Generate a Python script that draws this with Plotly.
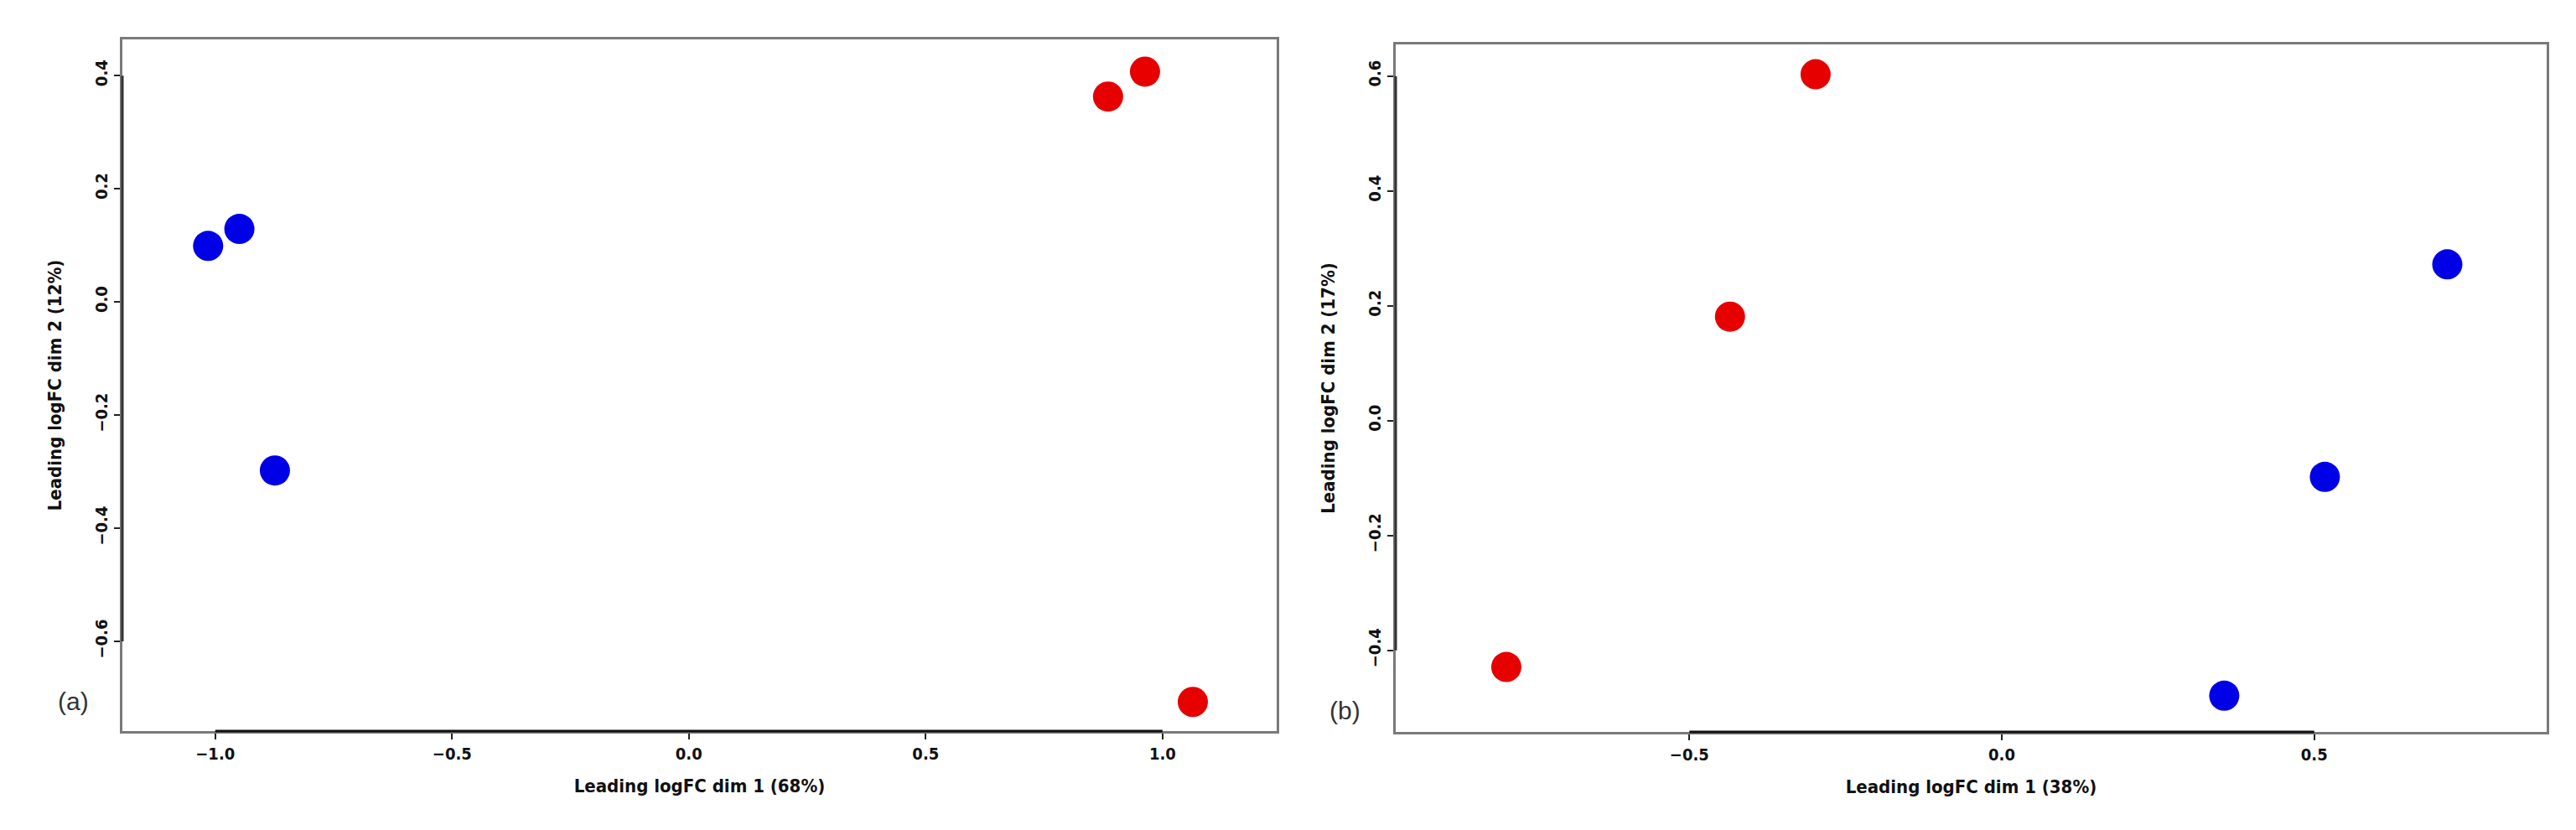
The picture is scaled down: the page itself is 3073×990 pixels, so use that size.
"""MDS plots of leading logFC (two panels), recreated with Plotly."""
import plotly.graph_objects as go

# panel (a)
a_blue_x = [-1.015, -0.949, -0.874]
a_blue_y = [0.099, 0.129, -0.298]
a_red_x = [0.885, 0.963, 1.064]
a_red_y = [0.363, 0.407, -0.707]
a_xticks = [-1.0, -0.5, 0.0, 0.5, 1.0]
a_yticks = [-0.6, -0.4, -0.2, 0.0, 0.2, 0.4]
a_xtitle = "Leading logFC dim 1 (68%)"
a_ytitle = "Leading logFC dim 2 (12%)"

# panel (b)
b_red_x = [-0.793, -0.435, -0.298]
b_red_y = [-0.429, 0.181, 0.603]
b_blue_x = [0.356, 0.517, 0.713]
b_blue_y = [-0.479, -0.098, 0.272]
b_xticks = [-0.5, 0.0, 0.5]
b_yticks = [-0.4, -0.2, 0.0, 0.2, 0.4, 0.6]
b_xtitle = "Leading logFC dim 1 (38%)"
b_ytitle = "Leading logFC dim 2 (17%)"

BLUE = "#0000E6"
RED = "#E60000"
BOX = "#7a7a7a"
FONT = "DejaVu Sans Condensed, Liberation Sans, Arial, sans-serif"

fig = go.Figure()


def dots(x, y, color, xa, ya):
    fig.add_trace(go.Scatter(
        x=x, y=y, mode="markers", xaxis=xa, yaxis=ya, showlegend=False,
        marker=dict(color=color, size=36, line=dict(width=0)),
    ))


dots(a_blue_x, a_blue_y, BLUE, "x", "y")
dots(a_red_x, a_red_y, RED, "x", "y")
dots(b_red_x, b_red_y, RED, "x2", "y2")
dots(b_blue_x, b_blue_y, BLUE, "x2", "y2")

W, H = 3073, 990


def axis(dom, rng, ticks, title, is_y, anchor, standoff):
    d = dict(
        domain=dom, range=rng, tickvals=ticks,
        ticktext=[f"{t:.1f}".replace("-", "\u2212") for t in ticks],
        showgrid=False, zeroline=False, showline=True, mirror=True,
        linecolor=BOX, linewidth=3, ticks="outside", ticklen=7, tickwidth=2,
        tickcolor="#222", anchor=anchor,
        tickfont=dict(family=FONT, size=20, color="#111", weight="bold"),
        title=dict(text=title, standoff=standoff,
                   font=dict(family=FONT, size=22, color="#111", weight="bold")),
    )
    if is_y:
        d["tickangle"] = -90
    return d


fig.update_layout(
    width=W, height=H, margin=dict(l=0, r=0, t=0, b=0),
    paper_bgcolor="white", plot_bgcolor="white",
    xaxis=axis([146 / W, 1523 / W], [-1.196, 1.241], a_xticks, a_xtitle, False, "y", 20),
    yaxis=axis([1 - 872 / H, 1 - 47 / H], [-0.7585, 0.464], a_yticks, a_ytitle, True, "x", 30),
    xaxis2=axis([1665 / W, 3038 / W], [-0.970, 0.872], b_xticks, b_xtitle, False, "y2", 20),
    yaxis2=axis([1 - 873 / H, 1 - 53 / H], [-0.542, 0.655], b_yticks, b_ytitle, True, "x2", 30),
)

# R draws the axis line only between the outer ticks, darker than the box
for xa, ya, xt, yt in [("x", "y", a_xticks, a_yticks), ("x2", "y2", b_xticks, b_yticks)]:
    fig.add_shape(type="line", xref=xa, yref=f"{ya} domain", x0=min(xt), x1=max(xt),
                  y0=0, y1=0, line=dict(color="#111", width=3))
    fig.add_shape(type="line", xref=f"{xa} domain", yref=ya, x0=0, x1=0,
                  y0=min(yt), y1=max(yt), line=dict(color="#333", width=3))

for label, px, py in [("(a)", 67, 855), ("(b)", 1604, 866)]:
    fig.add_annotation(text=label, x=px / W, y=1 - py / H, xref="paper", yref="paper",
                       showarrow=False, font=dict(family="Liberation Sans", size=30, color="#333"))

fig.write_html("out.html", config={"displayModeBar": False},
               post_script="document.body.style.margin='0';")
